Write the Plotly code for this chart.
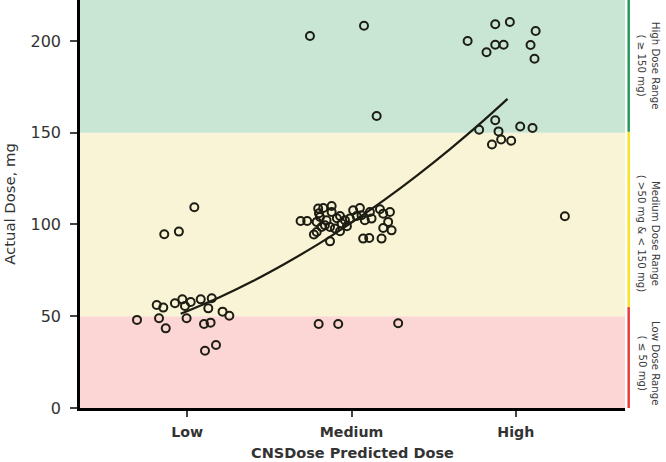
import plotly.graph_objects as go

categories = ["Low", "Medium", "High"]
cat_pos = [1, 2, 3]

# Low predicted group (x = jittered category position)
low_x = [0.694, 0.814, 0.854, 0.828, 0.869, 0.925, 0.970, 0.986, 1.021, 0.996,
         1.082, 1.149, 1.128, 1.102, 1.142, 1.215, 1.256, 1.175, 1.108,
         1.043, 0.860, 0.949]
low_y = [48.0, 56.1, 54.7, 48.9, 43.4, 57.1, 59.2, 55.6, 57.8, 48.9,
         59.2, 59.8, 54.3, 45.8, 46.5, 52.5, 50.3, 34.3, 31.2,
         109.4, 94.7, 96.1]

# Medium predicted group
med_x = [1.690, 1.730, 1.797, 1.828, 1.879, 1.879, 1.808, 1.788, 1.818, 1.788,
         1.771, 1.848, 1.869, 1.899, 1.930, 1.940, 1.930, 1.960, 1.990, 2.010,
         2.051, 2.031, 2.061, 2.081, 2.112, 2.122, 2.173, 2.193, 2.234, 2.223,
         2.193, 2.244, 2.183, 2.071, 2.108, 1.869, 1.838, 1.911, 1.972, 1.802,
         1.747, 2.076, 2.153, 1.800, 1.919, 2.284]
med_y = [101.9, 101.9, 108.7, 109.0, 110.1, 106.8, 104.1, 101.4, 98.6, 95.9,
         94.5, 102.3, 98.6, 97.8, 104.6, 100.5, 96.3, 102.3, 103.2, 107.7,
         109.0, 104.6, 105.0, 102.3, 106.8, 103.2, 108.3, 105.9, 106.8, 101.4,
         98.1, 96.8, 92.3, 92.3, 92.6, 90.8, 99.6, 103.4, 99.0, 106.1,
         202.7, 208.3, 159.1, 45.8, 45.8, 46.2]

# High predicted group
high_x = [2.707, 2.875, 2.964, 2.875, 2.926, 2.822, 3.121, 3.090, 3.114,
          2.875, 2.777, 3.027, 3.102, 2.895, 2.911, 2.972, 2.855, 3.299]
high_y = [200.0, 209.1, 210.3, 197.9, 197.9, 193.8, 205.4, 197.8, 190.3,
          156.8, 151.6, 153.4, 152.6, 150.7, 146.3, 145.6, 143.6, 104.5]

# Fitted trend line
fit_x = [0.96, 1.2, 1.4, 1.6, 1.8, 2.0, 2.2, 2.4, 2.6, 2.8, 2.95]
fit_y = [51.3, 60.5, 69.2, 78.9, 89.4, 101.0, 113.4, 126.8, 141.1, 156.3, 168.4]

# Dose ranges
range_low = [0, 50, 150]
range_high = [50, 150, 222.3]
range_fill = ["#fcd5d5", "#f9f4d6", "#c9e6d5"]
range_bar = ["#e53a3a", "#f7e21b", "#1e9a55"]
range_bar_lo = [0, 55, 150.5]
range_bar_hi = [55, 150.5, 222.3]
range_label = ["Low Dose Range<br>( ≤ 50 mg)",
               "Medium Dose Range<br>( >50 mg & < 150 mg)",
               "High Dose Range<br>( ≥ 150 mg)"]
range_label_y = [24.5, 95, 186.5]

y_ticks = [0, 50, 100, 150, 200]

all_x = low_x + med_x + high_x
all_y = low_y + med_y + high_y

fig = go.Figure()

shapes = []
for lo, hi, col in zip(range_low, range_high, range_fill):
    shapes.append(dict(type="rect", xref="paper", yref="y", x0=0, x1=1,
                       y0=lo, y1=hi, fillcolor=col, line=dict(width=0),
                       layer="below"))
for lo, hi, col in zip(range_bar_lo, range_bar_hi, range_bar):
    shapes.append(dict(type="rect", xref="paper", yref="y", x0=1.0045, x1=1.009,
                       y0=lo, y1=hi, fillcolor=col, line=dict(width=0),
                       layer="above"))

fig.add_trace(go.Scatter(
    x=fit_x, y=fit_y, mode="lines", line=dict(color="#1b1b12", width=2.2, shape="spline"),
    showlegend=False, hoverinfo="skip"))

fig.add_trace(go.Scatter(
    x=all_x, y=all_y, mode="markers",
    marker=dict(symbol="circle-open", size=8, color="#1d1d14", line=dict(width=2, color="#1d1d14")),
    showlegend=False))

annotations = []
for lab, yc in zip(range_label, range_label_y):
    annotations.append(dict(text=lab, xref="paper", yref="y", x=1.044, y=yc,
                            xanchor="center", yanchor="middle",
                            showarrow=False, textangle=90,
                            font=dict(family="DejaVu Sans", size=10.2, color="#3a3a3a"),
                            align="center"))

fig.update_layout(
    width=666, height=462,
    margin=dict(l=80, r=41, t=0, b=54, autoexpand=False),
    paper_bgcolor="white", plot_bgcolor="white",
    shapes=shapes, annotations=annotations,
    font=dict(family="DejaVu Sans", color="#333333"),
    xaxis=dict(range=[0.347, 3.665], tickmode="array", tickvals=cat_pos,
               ticktext=["<b>" + c + "</b>" for c in categories],
               showgrid=False, zeroline=False, showline=True, linecolor="black", linewidth=2.5,
               ticks="outside", ticklen=6, tickcolor="#444", tickwidth=1.5,
               ticklabelstandoff=3,
               tickfont=dict(family="DejaVu Sans", size=14.2, color="#333"),
               title=dict(text="<b>CNSDose Predicted Dose</b>", standoff=10,
                          font=dict(family="DejaVu Sans", size=14.5, color="#333"))),
    yaxis=dict(range=[0, 222.3], tickmode="array", tickvals=y_ticks,
               showgrid=False, zeroline=False, showline=True, linecolor="black", linewidth=2.5,
               ticks="outside", ticklen=7, tickcolor="#444", tickwidth=1.5,
               ticklabelstandoff=6,
               tickfont=dict(family="DejaVu Sans", size=16, color="#333"),
               title=dict(text="Actual Dose, mg", standoff=12,
                          font=dict(family="DejaVu Sans", size=14.8, color="#333"))),
)

fig.write_html("out.html", config={"displayModeBar": False},
               post_script="document.body.style.margin='0px';document.body.style.overflow='hidden';")
